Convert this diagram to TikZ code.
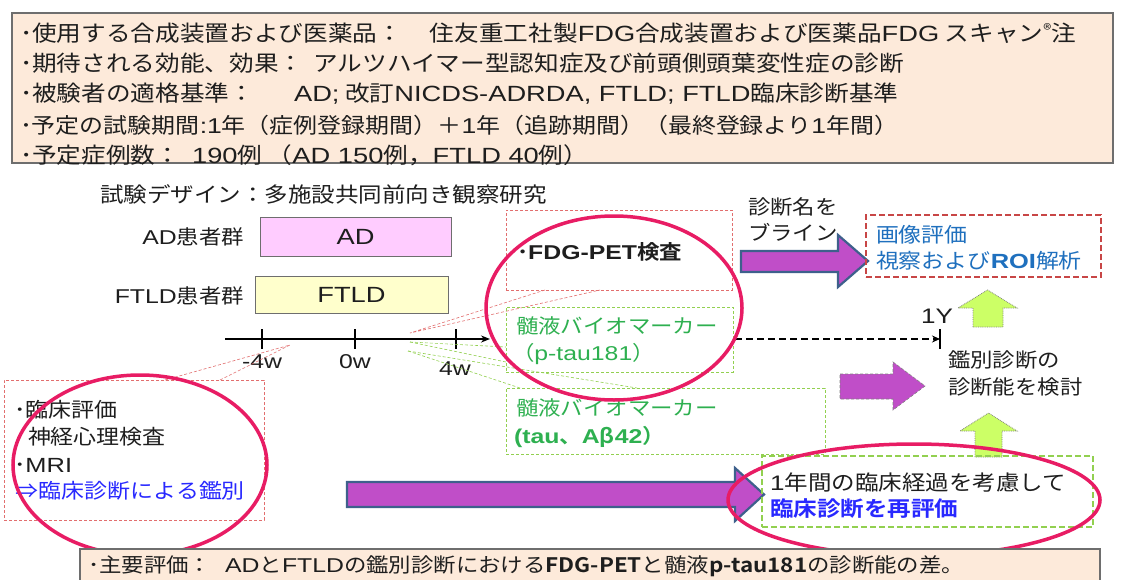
\documentclass[tikz,border=0pt]{standalone}
\usepackage{fontspec}
\setmainfont{Noto Sans CJK JP}[FakeStretch=1.12,BoldFont={Noto Sans CJK JP Bold}]
\newfontfamily\latf{Liberation Sans}[FakeStretch=1.24]
\newcommand{\la}[1]{{\latf #1}}
\usetikzlibrary{arrows.meta}
\definecolor{peach}{RGB}{253,234,218}
\definecolor{boxgray}{RGB}{110,110,110}
\definecolor{txt}{RGB}{30,30,30}
\definecolor{adpink}{RGB}{255,204,255}
\definecolor{ftldyel}{RGB}{255,255,204}
\definecolor{calred}{RGB}{226,110,110}
\definecolor{calgreen}{RGB}{146,208,80}
\definecolor{gtext}{RGB}{46,176,80}
\definecolor{btext}{RGB}{40,40,255}
\definecolor{roiblue}{RGB}{31,112,190}
\definecolor{ringred}{RGB}{232,28,100}
\definecolor{purp}{RGB}{192,78,200}
\definecolor{purpedge}{RGB}{62,96,140}
\definecolor{lime}{RGB}{204,255,102}
\definecolor{dashred}{RGB}{200,70,70}
\newcommand{\fs}[1]{\fontsize{#1}{#1}\selectfont}
\begin{document}
\begin{tikzpicture}[x=1pt,y=-1pt,
  every node/.style={inner sep=0pt,outer sep=0pt,text=txt},
  infobox/.style={draw=boxgray,line width=1.2pt,fill=peach},
  grpbox/.style={draw=boxgray,line width=1pt},
  redcall/.style={draw=calred,densely dashed,line width=0.6pt},
  greencall/.style={draw=calgreen,densely dashed,line width=0.6pt},
  ring/.style={draw=ringred,line width=3.5pt},
  bigpurple/.style={fill=purp,draw=purpedge,line width=2.2pt,line join=miter},
  smallpurple/.style={fill=purp,draw=gray,densely dashed,line width=0.6pt},
  limearrow/.style={fill=lime,draw=gray,densely dotted,line width=0.8pt},
  lbl/.style={anchor=west,font=\fs{22}},
]
\useasboundingbox (0,0) rectangle (1123,580);
\fill[white] (0,0) rectangle (1123,580);

% top info box
\node[infobox,anchor=north west,minimum width=1101pt,minimum height=150pt] (topbox) at (12,13) {};
\node[lbl] (t1) at (20,33) {･使用する合成装置および医薬品：\hspace{28pt}住友重工社製\la{FDG}合成装置および医薬品\la{FDG} スキャン\raisebox{0.5ex}{\fs{15}®}注};
\node[lbl] (t2) at (20,63) {･期待される効能、効果：\hspace{10pt}アルツハイマー型認知症及び前頭側頭葉変性症の診断};
\node[lbl] (t3) at (20,94) {･被験者の適格基準：\hspace{40pt}\la{AD;} 改訂\la{NICDS-ADRDA, FTLD; FTLD}臨床診断基準};
\node[lbl,font=\fs{21.4}] (t4) at (20,125) {･予定の試験期間\la{:1}年（症例登録期間）＋\la{1}年（追跡期間）（最終登録より\la{1}年間）};
\node[lbl] (t5) at (20,155) {･予定症例数：\hspace{12pt}\la{190}例 （\la{AD 150}例，\la{FTLD 40}例）};

% title
\node[lbl,font=\fs{21}] (title) at (100,194) {試験デザイン：多施設共同前向き観察研究};

% groups
\node[grpbox,fill=adpink,anchor=north west,minimum width=191pt,minimum height=39pt,font=\fs{22}\latf] (adbox) at (260,217) {AD};
\node[grpbox,fill=ftldyel,anchor=north west,minimum width=193pt,minimum height=37pt,font=\fs{22}\latf] (ftldbox) at (255,276) {FTLD};
\node[anchor=east,font=\fs{20}] (adlbl) at (244,237) {\la{AD}患者群};
\node[anchor=east,font=\fs{20}] (ftldlbl) at (244,296) {\la{FTLD}患者群};

% timeline
\coordinate (tlA) at (225,339);
\coordinate (tlB) at (490,339);
\draw[line width=1.6pt,-{Stealth[length=9pt,width=7pt]}] (tlA) -- (tlB);
\foreach \x in {262,355,456}{
  \draw[line width=1.6pt] (\x,329) -- (\x,349);
}
\node[font=\fs{20}\latf] (lm4) at (262,362) {-4w};
\node[font=\fs{20}\latf] (lz0) at (355,362) {0w};
\node[font=\fs{20}\latf] (lp4) at (455,369) {4w};

% follow-up dashed line
\coordinate (dA) at (735,339);
\coordinate (dB) at (940,339);
\draw[line width=1.6pt,dashed,dash pattern=on 7pt off 4pt,-{Stealth[length=8pt,width=7pt]}] (dA) -- (dB);
\draw[line width=1.6pt] (940,329) -- (940,349);
\node[font=\fs{21}\latf] (oneY) at (937,316) {1Y};

% FDG box
\node[redcall,anchor=north west,minimum width=226pt,minimum height=80pt] (fdgbox) at (506,210) {};
\node[lbl,font=\fs{20}\bfseries] (fdgtxt) at (517,252) {･\la{FDG-PET}検査};
\coordinate (fdgtip) at (410,333);
\draw[redcall] (545,290) -- (fdgtip) -- (600,290);

% p-tau box
\node[greencall,anchor=north west,minimum width=227pt,minimum height=65pt] (ptaubox) at (506,307) {};
\node[lbl,font=\fs{20},text=gtext] (pt1) at (516,326) {髄液バイオマーカー};
\node[lbl,font=\fs{20},text=gtext] (pt2) at (512,354) {（\la{p-tau181}）};
\coordinate (pttip) at (410,342);
\draw[greencall] (pttip) -- (506,347);
\draw[greencall] (pttip) -- (506,362);

% tau box
\node[greencall,anchor=north west,minimum width=319pt,minimum height=66pt] (taubox) at (506,388) {};
\node[lbl,font=\fs{20},text=gtext] (ta1) at (516,408) {髄液バイオマーカー};
\node[lbl,font=\fs{20}\bfseries,text=gtext] (ta2) at (514,437) {\la{(tau}、\la{A}β\la{42}）};
\coordinate (tatip) at (408,351);
\draw[greencall] (tatip) -- (520,388);
\draw[greencall] (tatip) -- (637,388);

% left box
\node[redcall,anchor=north west,minimum width=260pt,minimum height=140pt] (leftbox) at (4,380) {};
\node[lbl,font=\fs{20.5}] (l1) at (14,410) {･臨床評価};
\node[lbl,font=\fs{20.5}] (l2) at (28,437) {神経心理検査};
\node[lbl,font=\fs{20.5}] (l3) at (14,465) {･\la{MRI}};
\node[lbl,font=\fs{20.5},text=btext] (l4) at (16,491) {⇒臨床診断による鑑別};
\coordinate (lftip) at (290,345);
\draw[redcall] (165,380) -- (lftip) -- (220,380);

% blind label + upper purple arrow
\node[lbl,font=\fs{20}] (bl1) at (748,207) {診断名を};
\node[lbl,font=\fs{20}] (bl2) at (748,232) {ブライン};
\draw[bigpurple] (741,251) -- (838,251) -- (838,235) -- (868,261) -- (838,287) -- (838,272) -- (741,272) -- cycle;

% image evaluation box
\node[draw=dashred,dashed,dash pattern=on 6pt off 3pt,line width=2pt,anchor=north west,minimum width=235pt,minimum height=62pt] (imgbox) at (866,215) {};
\node[lbl,font=\fs{20.5},text=roiblue] (im1) at (876,235) {画像評価};
\node[lbl,font=\fs{20.5},text=roiblue] (im2) at (876,261) {視察および\textbf{\la{ROI}}解析};

% lime up arrows
\draw[limearrow] (973,327) -- (973,308) -- (958,308) -- (987.5,290) -- (1017,308) -- (1003,308) -- (1003,327) -- cycle;
\draw[limearrow] (975,457) -- (975,431) -- (960,431) -- (988.5,413) -- (1017,431) -- (1002,431) -- (1002,457) -- cycle;

% conclusion text
\node[lbl,font=\fs{20}] (c1) at (948,360) {鑑別診断の};
\node[lbl,font=\fs{20}] (c2) at (948,387) {診断能を検討};

% middle purple arrow
\draw[smallpurple] (840,374) -- (893,374) -- (893,362) -- (925,386) -- (893,410) -- (893,399) -- (840,399) -- cycle;

% bottom purple arrow
\draw[bigpurple] (347,482) -- (735,482) -- (735,468) -- (764,494.5) -- (735,521) -- (735,507) -- (347,507) -- cycle;

% re-evaluation box
\node[draw=calgreen,dashed,dash pattern=on 6pt off 3pt,line width=2pt,anchor=north west,minimum width=331pt,minimum height=71pt] (reeval) at (762,456) {};
\node[lbl,font=\fs{21}] (r1) at (770,483) {\la{1}年間の臨床経過を考慮して};
\node[lbl,font=\fs{21}\bfseries,text=btext] (r2) at (770,509) {臨床診断を再評価};

% rings
\draw[ring] (614,308) ellipse [x radius=128, y radius=92];
\draw[ring] (140,465) ellipse [x radius=127, y radius=90];
\draw[ring] (914,500) ellipse [x radius=186, y radius=56];

% bottom box
\node[infobox,anchor=north west,minimum width=1020pt,minimum height=50pt] (botbox) at (80,549) {};
\node[lbl,font=\fs{20}] (bt) at (88,566) {･主要評価：\hspace{14pt}\la{AD}と\la{FTLD}の鑑別診断における\textbf{FDG-PET}と髄液\textbf{p-tau181}の診断能の差。};
\end{tikzpicture}
\end{document}
